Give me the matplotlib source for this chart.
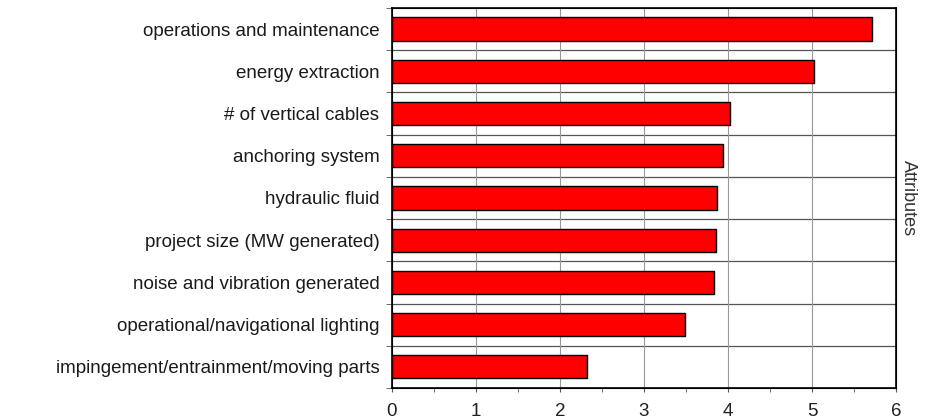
import matplotlib
matplotlib.use("Agg")
import matplotlib.pyplot as plt
import numpy as np

# Attribute scores, top to bottom as in the chart
categories = [
    "operations and maintenance",
    "energy extraction",
    "# of vertical cables",
    "anchoring system",
    "hydraulic fluid",
    "project size (MW generated)",
    "noise and vibration generated",
    "operational/navigational lighting",
    "impingement/entrainment/moving parts",
]
scores = [5.71, 5.03, 4.03, 3.94, 3.87, 3.86, 3.83, 3.49, 2.32]
x_ticks = [0, 1, 2, 3, 4, 5, 6]

plt.rcParams['font.family'] = ['Liberation Sans', 'DejaVu Sans']

fig = plt.figure(figsize=(9.3, 4.19), dpi=100)
ax = fig.add_axes([0.4215, 0.074, 0.5419, 0.907])

n = len(categories)
ypos = np.arange(n)[::-1]
ax.barh(ypos, scores, height=0.55, color='#ff0000', edgecolor='black', linewidth=1.0, zorder=3)

ax.set_xlim(0, 6)
ax.set_ylim(-0.5, n - 0.5)
ax.set_xticks(x_ticks)
ax.set_xticklabels([str(t) for t in x_ticks], fontsize=13.5, color='#222222')
ax.set_xticks(np.arange(0.5, 6, 1), minor=True)
ax.set_yticks(ypos)
ax.set_yticklabels(categories, fontsize=13.5, color='#1a1a1a')
ax.tick_params(axis='y', length=0, pad=9)
ax.tick_params(axis='x', which='both', direction='out', length=3, colors='#555555',
               labelcolor='#222222', pad=8)

# boundary lines between categories
bounds = np.arange(-0.5, n, 1)
for b in bounds[1:-1]:
    ax.axhline(b, color='#555555', linewidth=0.9, zorder=1)
ax.set_yticks(bounds, minor=True)
ax.tick_params(axis='y', which='minor', length=4, direction='out', colors='#555555')
for t in x_ticks[1:-1]:
    ax.axvline(t, color='#999999', linewidth=0.8, zorder=1)

for s in ax.spines.values():
    s.set_linewidth(1.2)
    s.set_color('black')

ax2 = ax.twinx()
ax2.set_yticks([])
ax2.set_ylabel("Attributes", rotation=270, fontsize=13, labelpad=15, color='#333333')

fig.savefig("out.png", dpi=100)
